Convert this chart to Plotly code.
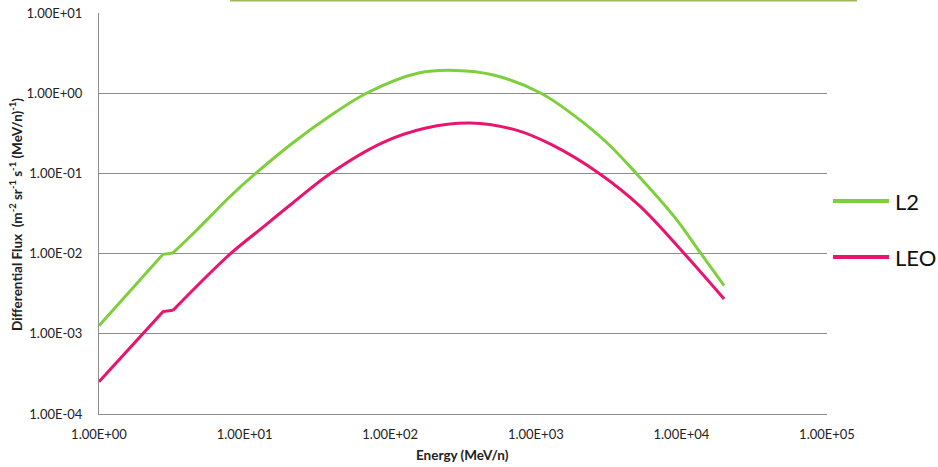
import plotly.graph_objects as go

# ---- data ----
energy_l2 = [1.0, 2.75, 3.22, 4.74, 7.82, 11.85, 21.5, 36.8, 69.2, 156.7,
             280.7, 504, 1077, 1800, 3080, 4920, 9040, 13680, 19650]
flux_l2 = [1.26e-3, 0.0098, 0.0102, 0.0200, 0.0501, 0.0991, 0.241,
           0.490, 1.006, 1.786, 1.924, 1.70, 1.006, 0.540, 0.241, 0.0991, 0.0281,
           0.00989, 0.00398]

energy_leo = [1.0, 2.75, 3.22, 7.96, 13.0, 21.5, 38.6, 87.4, 176, 355, 715,
              1284, 2742, 5210, 10520, 19650]
flux_leo = [2.53e-4, 1.89e-3, 1.96e-3, 0.00989, 0.0205, 0.0431, 0.0991,
            0.239, 0.368, 0.425, 0.351, 0.228, 0.0991, 0.0388, 0.00989, 0.00272]

x_tickvals = [1, 10, 100, 1000, 10000, 100000]
x_ticktext = ["1.00E+00", "1.00E+01", "1.00E+02", "1.00E+03", "1.00E+04", "1.00E+05"]
y_tickvals = [1e-4, 1e-3, 1e-2, 1e-1, 1, 10]
y_ticktext = ["1.00E-04", "1.00E-03", "1.00E-02", "1.00E-01", "1.00E+00", "1.00E+01"]

series_names = ["L2", "LEO"]
series_colors = ["#7ECF3C", "#E8146E"]
KINK = 2  # index of the end of the straight low-energy part (sharp corners)

FONT = "Lato, 'Open Sans', Arial, sans-serif"

fig = go.Figure()
for name, color, ex, fy in zip(series_names, series_colors,
                                [energy_l2, energy_leo], [flux_l2, flux_leo]):
    # straight low-energy segment with its step
    fig.add_trace(go.Scatter(x=ex[:KINK + 1], y=fy[:KINK + 1], mode="lines", name=name,
                             line=dict(color=color, width=3), showlegend=False))
    # smooth remainder of the spectrum
    fig.add_trace(go.Scatter(x=ex[KINK:], y=fy[KINK:], mode="lines", name=name,
                             line=dict(color=color, width=3, shape="spline", smoothing=1.0),
                             showlegend=False))

# plot-area geometry in pixels (for placing the legend-like key)
L, R, T, B = 99, 827, 13, 414
def px(xp):
    return (xp - L) / (R - L)
def py(yp):
    return (B - yp) / (B - T)

legend_y = [201, 257]
shapes = [
    dict(type="line", xref="paper", yref="paper", x0=px(230), x1=px(857),
         y0=py(0.5), y1=py(0.5), line=dict(color="#9BBB59", width=2)),
]
annotations = [
    dict(text="<b>Energy (MeV/n)</b>", xref="paper", yref="paper", x=px(462), y=py(455),
         xanchor="center", yanchor="middle", showarrow=False,
         font=dict(size=13.5, color="#222222", family=FONT)),
    dict(text="<b>Differential Flux  (m<sup>-2</sup> sr<sup>-1</sup> s<sup>-1</sup> (MeV/n)<sup>-1</sup>)</b>",
         xref="paper", yref="paper", x=px(16), y=py(215), xanchor="center", yanchor="middle",
         textangle=-90, showarrow=False,
         font=dict(size=13.5, color="#222222", family=FONT)),
]
for name, color, yl in zip(series_names, series_colors, legend_y):
    shapes.append(dict(type="line", xref="paper", yref="paper", x0=px(833), x1=px(889),
                       y0=py(yl), y1=py(yl), line=dict(color=color, width=4)))
    annotations.append(dict(text=name, xref="paper", yref="paper", x=px(893), y=py(yl),
                            xanchor="left", yanchor="middle", showarrow=False,
                            font=dict(size=22, color="#111111", family=FONT)))

fig.update_layout(
    width=938, height=467,
    margin=dict(l=L, r=938 - R, t=T, b=467 - B, autoexpand=False),
    paper_bgcolor="white", plot_bgcolor="white",
    font=dict(family=FONT, color="#222222", size=13),
    showlegend=False,
    xaxis=dict(type="log", range=[0, 5], tickvals=x_tickvals, ticktext=x_ticktext,
               showgrid=False, showline=True, linecolor="#8c8c8c", linewidth=1,
               ticks="", ticklabelstandoff=8, tickfont=dict(size=13, color="#222222"),
               zeroline=False, automargin=False),
    yaxis=dict(type="log", range=[-4, 1], tickvals=y_tickvals, ticktext=y_ticktext,
               showgrid=True, gridcolor="#8c8c8c", gridwidth=1,
               showline=True, linecolor="#8c8c8c", linewidth=1,
               ticks="", ticklabelstandoff=13, tickfont=dict(size=13, color="#222222"),
               zeroline=False, automargin=False),
    annotations=annotations,
    shapes=shapes,
)

fig.write_html("out.html")
